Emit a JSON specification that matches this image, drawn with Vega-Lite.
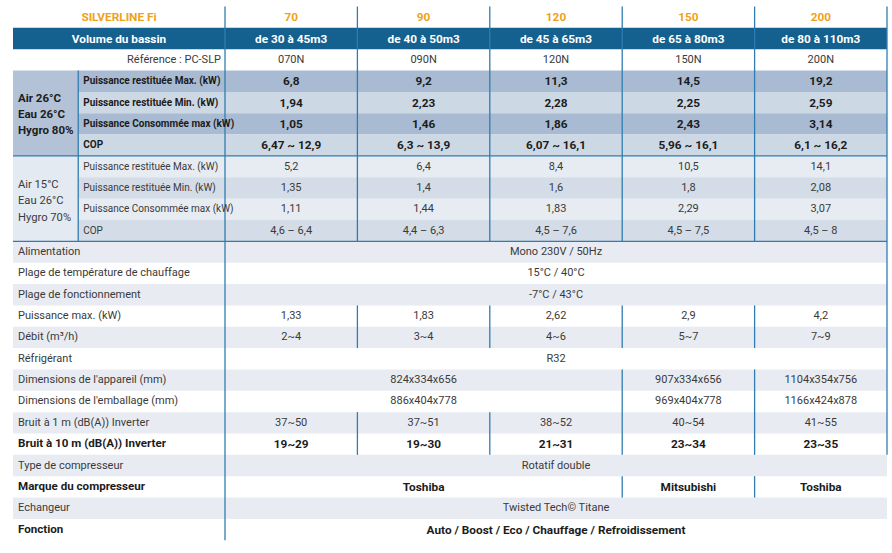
{
  "$schema": "https://vega.github.io/schema/vega-lite/v6.json",
  "width": 892,
  "height": 553,
  "autosize": {"type": "none"},
  "padding": 0,
  "background": "white",
  "config": {"view": {"stroke": null}},
  "datasets": {
    "cells": [
      {"r0": 1, "r1": 2, "c0": 0, "c1": 18, "tone": "band"},
      {"r0": 3, "r1": 7, "c0": 0, "c1": 4, "tone": "s1label"},
      {"r0": 3, "r1": 4, "c0": 4, "c1": 18, "tone": "s1dark"},
      {"r0": 4, "r1": 5, "c0": 4, "c1": 18, "tone": "s1light"},
      {"r0": 5, "r1": 6, "c0": 4, "c1": 18, "tone": "s1dark"},
      {"r0": 6, "r1": 7, "c0": 4, "c1": 18, "tone": "s1light"},
      {"r0": 7, "r1": 11, "c0": 0, "c1": 4, "tone": "s2label"},
      {"r0": 7, "r1": 8, "c0": 4, "c1": 18, "tone": "s2light"},
      {"r0": 8, "r1": 9, "c0": 4, "c1": 18, "tone": "s2dark"},
      {"r0": 9, "r1": 10, "c0": 4, "c1": 18, "tone": "s2light"},
      {"r0": 10, "r1": 11, "c0": 4, "c1": 18, "tone": "s2dark"},
      {"r0": 11, "r1": 12, "c0": 0, "c1": 18, "tone": "alt"},
      {"r0": 13, "r1": 14, "c0": 0, "c1": 18, "tone": "alt"},
      {"r0": 15, "r1": 16, "c0": 0, "c1": 18, "tone": "alt"},
      {"r0": 17, "r1": 18, "c0": 0, "c1": 18, "tone": "alt"},
      {"r0": 19, "r1": 20, "c0": 0, "c1": 18, "tone": "alt"},
      {"r0": 21, "r1": 22, "c0": 0, "c1": 18, "tone": "alt"},
      {"r0": 23, "r1": 24, "c0": 0, "c1": 18, "tone": "alt"}
    ],
    "vlines": [
      {"c": 4, "r0": 3, "r1": 11},
      {"c": 13, "r0": 0, "r1": 25},
      {"c": 14, "r0": 0, "r1": 11}, {"c": 14, "r0": 14, "r1": 16}, {"c": 14, "r0": 19, "r1": 21},
      {"c": 15, "r0": 0, "r1": 11}, {"c": 15, "r0": 14, "r1": 16}, {"c": 15, "r0": 19, "r1": 21},
      {"c": 16, "r0": 0, "r1": 11}, {"c": 16, "r0": 14, "r1": 16}, {"c": 16, "r0": 17, "r1": 21}, {"c": 16, "r0": 22, "r1": 23},
      {"c": 17, "r0": 0, "r1": 11}, {"c": 17, "r0": 14, "r1": 16}, {"c": 17, "r0": 17, "r1": 21}, {"c": 17, "r0": 22, "r1": 23},
      {"c": 18, "r0": 0, "r1": 21}
    ],
    "hlines": [
      {"r": 7, "c0": 0, "c1": 18},
      {"r": 11, "c0": 0, "c1": 18}
    ],
    "texts": [
      {"row": 0, "c0": 0, "c1": 13, "text": "SILVERLINE Fi", "style": "head"},
      {"row": 0, "c0": 13, "c1": 14, "text": "70", "style": "head"},
      {"row": 0, "c0": 14, "c1": 15, "text": "90", "style": "head"},
      {"row": 0, "c0": 15, "c1": 16, "text": "120", "style": "head"},
      {"row": 0, "c0": 16, "c1": 17, "text": "150", "style": "head"},
      {"row": 0, "c0": 17, "c1": 18, "text": "200", "style": "head"},
      {"row": 1, "c0": 0, "c1": 13, "text": "Volume du bassin", "style": "band"},
      {"row": 1, "c0": 13, "c1": 14, "text": "de 30 à 45m3", "style": "band"},
      {"row": 1, "c0": 14, "c1": 15, "text": "de 40 à 50m3", "style": "band"},
      {"row": 1, "c0": 15, "c1": 16, "text": "de 45 à 65m3", "style": "band"},
      {"row": 1, "c0": 16, "c1": 17, "text": "de 65 à 80m3", "style": "band"},
      {"row": 1, "c0": 17, "c1": 18, "text": "de 80 à 110m3", "style": "band"},
      {"row": 2, "c0": 0, "c1": 13, "text": "Référence : PC-SLP", "style": "ref"},
      {"row": 2, "c0": 13, "c1": 14, "text": "070N", "style": "val"},
      {"row": 2, "c0": 14, "c1": 15, "text": "090N", "style": "val"},
      {"row": 2, "c0": 15, "c1": 16, "text": "120N", "style": "val"},
      {"row": 2, "c0": 16, "c1": 17, "text": "150N", "style": "val"},
      {"row": 2, "c0": 17, "c1": 18, "text": "200N", "style": "val"},
      {"row": 3, "span": 4, "c0": 0, "c1": 4, "text": "Air 26°C\nEau 26°C\nHygro 80%", "style": "sec1"},
      {"row": 3, "c0": 4, "c1": 13, "text": "Puissance restituée Max. (kW)", "style": "labelC"},
      {"row": 4, "c0": 4, "c1": 13, "text": "Puissance restituée Min. (kW)", "style": "labelC"},
      {"row": 5, "c0": 4, "c1": 13, "text": "Puissance Consommée max (kW)", "style": "labelC"},
      {"row": 6, "c0": 4, "c1": 13, "text": "COP", "style": "labelC"},
      {"row": 3, "c0": 13, "c1": 14, "text": "6,8", "style": "valB"},
      {"row": 3, "c0": 14, "c1": 15, "text": "9,2", "style": "valB"},
      {"row": 3, "c0": 15, "c1": 16, "text": "11,3", "style": "valB"},
      {"row": 3, "c0": 16, "c1": 17, "text": "14,5", "style": "valB"},
      {"row": 3, "c0": 17, "c1": 18, "text": "19,2", "style": "valB"},
      {"row": 4, "c0": 13, "c1": 14, "text": "1,94", "style": "valB"},
      {"row": 4, "c0": 14, "c1": 15, "text": "2,23", "style": "valB"},
      {"row": 4, "c0": 15, "c1": 16, "text": "2,28", "style": "valB"},
      {"row": 4, "c0": 16, "c1": 17, "text": "2,25", "style": "valB"},
      {"row": 4, "c0": 17, "c1": 18, "text": "2,59", "style": "valB"},
      {"row": 5, "c0": 13, "c1": 14, "text": "1,05", "style": "valB"},
      {"row": 5, "c0": 14, "c1": 15, "text": "1,46", "style": "valB"},
      {"row": 5, "c0": 15, "c1": 16, "text": "1,86", "style": "valB"},
      {"row": 5, "c0": 16, "c1": 17, "text": "2,43", "style": "valB"},
      {"row": 5, "c0": 17, "c1": 18, "text": "3,14", "style": "valB"},
      {"row": 6, "c0": 13, "c1": 14, "text": "6,47 ~ 12,9", "style": "valB"},
      {"row": 6, "c0": 14, "c1": 15, "text": "6,3 ~ 13,9", "style": "valB"},
      {"row": 6, "c0": 15, "c1": 16, "text": "6,07 ~ 16,1", "style": "valB"},
      {"row": 6, "c0": 16, "c1": 17, "text": "5,96 ~ 16,1", "style": "valB"},
      {"row": 6, "c0": 17, "c1": 18, "text": "6,1 ~ 16,2", "style": "valB"},
      {"row": 7, "span": 4, "c0": 0, "c1": 4, "text": "Air 15°C\nEau 26°C\nHygro 70%", "style": "sec2"},
      {"row": 7, "c0": 4, "c1": 13, "text": "Puissance restituée Max. (kW)", "style": "labelN"},
      {"row": 8, "c0": 4, "c1": 13, "text": "Puissance restituée Min. (kW)", "style": "labelN"},
      {"row": 9, "c0": 4, "c1": 13, "text": "Puissance Consommée max (kW)", "style": "labelN"},
      {"row": 10, "c0": 4, "c1": 13, "text": "COP", "style": "labelN"},
      {"row": 7, "c0": 13, "c1": 14, "text": "5,2", "style": "val"},
      {"row": 7, "c0": 14, "c1": 15, "text": "6,4", "style": "val"},
      {"row": 7, "c0": 15, "c1": 16, "text": "8,4", "style": "val"},
      {"row": 7, "c0": 16, "c1": 17, "text": "10,5", "style": "val"},
      {"row": 7, "c0": 17, "c1": 18, "text": "14,1", "style": "val"},
      {"row": 8, "c0": 13, "c1": 14, "text": "1,35", "style": "val"},
      {"row": 8, "c0": 14, "c1": 15, "text": "1,4", "style": "val"},
      {"row": 8, "c0": 15, "c1": 16, "text": "1,6", "style": "val"},
      {"row": 8, "c0": 16, "c1": 17, "text": "1,8", "style": "val"},
      {"row": 8, "c0": 17, "c1": 18, "text": "2,08", "style": "val"},
      {"row": 9, "c0": 13, "c1": 14, "text": "1,11", "style": "val"},
      {"row": 9, "c0": 14, "c1": 15, "text": "1,44", "style": "val"},
      {"row": 9, "c0": 15, "c1": 16, "text": "1,83", "style": "val"},
      {"row": 9, "c0": 16, "c1": 17, "text": "2,29", "style": "val"},
      {"row": 9, "c0": 17, "c1": 18, "text": "3,07", "style": "val"},
      {"row": 10, "c0": 13, "c1": 14, "text": "4,6 – 6,4", "style": "val"},
      {"row": 10, "c0": 14, "c1": 15, "text": "4,4 – 6,3", "style": "val"},
      {"row": 10, "c0": 15, "c1": 16, "text": "4,5 – 7,6", "style": "val"},
      {"row": 10, "c0": 16, "c1": 17, "text": "4,5 – 7,5", "style": "val"},
      {"row": 10, "c0": 17, "c1": 18, "text": "4,5 – 8", "style": "val"},
      {"row": 11, "c0": 0, "c1": 13, "text": "Alimentation", "style": "label"},
      {"row": 11, "c0": 13, "c1": 18, "text": "Mono 230V / 50Hz", "style": "val"},
      {"row": 12, "c0": 0, "c1": 13, "text": "Plage de température de chauffage", "style": "label"},
      {"row": 12, "c0": 13, "c1": 18, "text": "15°C / 40°C", "style": "val"},
      {"row": 13, "c0": 0, "c1": 13, "text": "Plage de fonctionnement", "style": "label"},
      {"row": 13, "c0": 13, "c1": 18, "text": "-7°C / 43°C", "style": "val"},
      {"row": 14, "c0": 0, "c1": 13, "text": "Puissance max. (kW)", "style": "label"},
      {"row": 14, "c0": 13, "c1": 14, "text": "1,33", "style": "val"},
      {"row": 14, "c0": 14, "c1": 15, "text": "1,83", "style": "val"},
      {"row": 14, "c0": 15, "c1": 16, "text": "2,62", "style": "val"},
      {"row": 14, "c0": 16, "c1": 17, "text": "2,9", "style": "val"},
      {"row": 14, "c0": 17, "c1": 18, "text": "4,2", "style": "val"},
      {"row": 15, "c0": 0, "c1": 13, "text": "Débit (m³/h)", "style": "label"},
      {"row": 15, "c0": 13, "c1": 14, "text": "2~4", "style": "val"},
      {"row": 15, "c0": 14, "c1": 15, "text": "3~4", "style": "val"},
      {"row": 15, "c0": 15, "c1": 16, "text": "4~6", "style": "val"},
      {"row": 15, "c0": 16, "c1": 17, "text": "5~7", "style": "val"},
      {"row": 15, "c0": 17, "c1": 18, "text": "7~9", "style": "val"},
      {"row": 16, "c0": 0, "c1": 13, "text": "Réfrigérant", "style": "label"},
      {"row": 16, "c0": 13, "c1": 18, "text": "R32", "style": "val"},
      {"row": 17, "c0": 0, "c1": 13, "text": "Dimensions de l'appareil (mm)", "style": "label"},
      {"row": 17, "c0": 13, "c1": 16, "text": "824x334x656", "style": "val"},
      {"row": 17, "c0": 16, "c1": 17, "text": "907x334x656", "style": "val"},
      {"row": 17, "c0": 17, "c1": 18, "text": "1104x354x756", "style": "val"},
      {"row": 18, "c0": 0, "c1": 13, "text": "Dimensions de l'emballage (mm)", "style": "label"},
      {"row": 18, "c0": 13, "c1": 16, "text": "886x404x778", "style": "val"},
      {"row": 18, "c0": 16, "c1": 17, "text": "969x404x778", "style": "val"},
      {"row": 18, "c0": 17, "c1": 18, "text": "1166x424x878", "style": "val"},
      {"row": 19, "c0": 0, "c1": 13, "text": "Bruit à 1 m (dB(A)) Inverter", "style": "label"},
      {"row": 19, "c0": 13, "c1": 14, "text": "37~50", "style": "val"},
      {"row": 19, "c0": 14, "c1": 15, "text": "37~51", "style": "val"},
      {"row": 19, "c0": 15, "c1": 16, "text": "38~52", "style": "val"},
      {"row": 19, "c0": 16, "c1": 17, "text": "40~54", "style": "val"},
      {"row": 19, "c0": 17, "c1": 18, "text": "41~55", "style": "val"},
      {"row": 20, "c0": 0, "c1": 13, "text": "Bruit à 10 m (dB(A)) Inverter", "style": "labelB"},
      {"row": 20, "c0": 13, "c1": 14, "text": "19~29", "style": "valB"},
      {"row": 20, "c0": 14, "c1": 15, "text": "19~30", "style": "valB"},
      {"row": 20, "c0": 15, "c1": 16, "text": "21~31", "style": "valB"},
      {"row": 20, "c0": 16, "c1": 17, "text": "23~34", "style": "valB"},
      {"row": 20, "c0": 17, "c1": 18, "text": "23~35", "style": "valB"},
      {"row": 21, "c0": 0, "c1": 13, "text": "Type de compresseur", "style": "label"},
      {"row": 21, "c0": 13, "c1": 18, "text": "Rotatif double", "style": "val"},
      {"row": 22, "c0": 0, "c1": 13, "text": "Marque du compresseur", "style": "labelB"},
      {"row": 22, "c0": 13, "c1": 16, "text": "Toshiba", "style": "valB"},
      {"row": 22, "c0": 16, "c1": 17, "text": "Mitsubishi", "style": "valB"},
      {"row": 22, "c0": 17, "c1": 18, "text": "Toshiba", "style": "valB"},
      {"row": 23, "c0": 0, "c1": 13, "text": "Echangeur", "style": "label"},
      {"row": 23, "c0": 13, "c1": 18, "text": "Twisted Tech© Titane", "style": "val"},
      {"row": 24, "c0": 0, "c1": 13, "text": "Fonction", "style": "labelB"},
      {"row": 24, "c0": 13, "c1": 18, "text": "Auto / Boost / Eco / Chauffage / Refroidissement", "style": "valB"}
    ]
  },
  "layer": [
    {
      "data": {"name": "cells"},
      "mark": {"type": "rect"},
      "encoding": {
        "x": {"field": "c0", "type": "quantitative", "scale": {"domain": [0, 13, 18], "range": [13, 225, 887], "zero": false, "nice": false}, "axis": null},
        "x2": {"field": "c1"},
        "y": {"field": "r0", "type": "quantitative", "scale": {"domain": [0, 25], "range": [6.5, 540.25], "zero": false, "nice": false}, "axis": null},
        "y2": {"field": "r1"},
        "fill": {"field": "tone", "type": "nominal", "legend": null,
          "scale": {"domain": ["band", "s1label", "s1dark", "s1light", "s2label", "s2light", "s2dark", "alt"],
                    "range": ["#14608f", "#b3c2d6", "#a9bbd2", "#cdd8e5", "#e4eaf2", "#e7ecf3", "#d3dce7", "#e8ecf2"]}}
      }
    },
    {
      "data": {"name": "vlines"},
      "mark": {"type": "rule", "color": "#2f7db0", "strokeWidth": 1.3},
      "encoding": {
        "x": {"field": "c", "type": "quantitative", "scale": {"domain": [0, 13, 18], "range": [13, 225, 887], "zero": false, "nice": false}, "axis": null},
        "y": {"field": "r0", "type": "quantitative", "scale": {"domain": [0, 25], "range": [6.5, 540.25], "zero": false, "nice": false}, "axis": null},
        "y2": {"field": "r1"}
      }
    },
    {
      "data": {"name": "hlines"},
      "mark": {"type": "rule", "color": "#2f7db0", "strokeWidth": 1.3},
      "encoding": {
        "x": {"field": "c0", "type": "quantitative", "scale": {"domain": [0, 13, 18], "range": [13, 225, 887], "zero": false, "nice": false}, "axis": null},
        "x2": {"field": "c1"},
        "y": {"field": "r", "type": "quantitative", "scale": {"domain": [0, 25], "range": [6.5, 540.25], "zero": false, "nice": false}, "axis": null}
      }
    },
    {
      "data": {"name": "texts"},
      "transform": [
        {"filter": "datum.style == 'label'"},
        {"calculate": "datum.row + 0.5", "as": "ym"}
      ],
      "mark": {"type": "text", "align": "left", "baseline": "middle", "dx": 5, "font": "Roboto", "fontSize": 11},
      "encoding": {
        "x": {"field": "c0", "type": "quantitative", "scale": {"domain": [0, 13, 18], "range": [13, 225, 887], "zero": false, "nice": false}, "axis": null},
        "y": {"field": "ym", "type": "quantitative", "scale": {"domain": [0, 25], "range": [6.5, 540.25], "zero": false, "nice": false}, "axis": null},
        "text": {"field": "text", "type": "nominal"},
        "color": {"value": "#3a3a3a"}
      }
    },
    {
      "data": {"name": "texts"},
      "transform": [
        {"filter": "datum.style == 'sec2'"},
        {"calculate": "datum.row + datum.span / 2", "as": "ym"}
      ],
      "mark": {"type": "text", "align": "left", "baseline": "middle", "dx": 5, "dy": -14, "font": "Roboto", "fontSize": 11.2, "lineBreak": "\n", "lineHeight": 16.5},
      "encoding": {
        "x": {"field": "c0", "type": "quantitative", "scale": {"domain": [0, 13, 18], "range": [13, 225, 887], "zero": false, "nice": false}, "axis": null},
        "y": {"field": "ym", "type": "quantitative", "scale": {"domain": [0, 25], "range": [6.5, 540.25], "zero": false, "nice": false}, "axis": null},
        "text": {"field": "text", "type": "nominal"},
        "color": {"value": "#3a3a3a"}
      }
    },
    {
      "data": {"name": "texts"},
      "transform": [
        {"filter": "datum.style == 'labelN'"},
        {"calculate": "datum.row + 0.5", "as": "ym"}
      ],
      "mark": {"type": "text", "align": "left", "baseline": "middle", "dx": 5, "font": "Roboto", "fontSize": 10},
      "encoding": {
        "x": {"field": "c0", "type": "quantitative", "scale": {"domain": [0, 13, 18], "range": [13, 225, 887], "zero": false, "nice": false}, "axis": null},
        "y": {"field": "ym", "type": "quantitative", "scale": {"domain": [0, 25], "range": [6.5, 540.25], "zero": false, "nice": false}, "axis": null},
        "text": {"field": "text", "type": "nominal"},
        "color": {"value": "#3a3a3a"}
      }
    },
    {
      "data": {"name": "texts"},
      "transform": [
        {"filter": "datum.style == 'labelB'"},
        {"calculate": "datum.row + 0.5", "as": "ym"}
      ],
      "mark": {"type": "text", "align": "left", "baseline": "middle", "dx": 5, "font": "Roboto", "fontWeight": "bold", "fontSize": 11.6},
      "encoding": {
        "x": {"field": "c0", "type": "quantitative", "scale": {"domain": [0, 13, 18], "range": [13, 225, 887], "zero": false, "nice": false}, "axis": null},
        "y": {"field": "ym", "type": "quantitative", "scale": {"domain": [0, 25], "range": [6.5, 540.25], "zero": false, "nice": false}, "axis": null},
        "text": {"field": "text", "type": "nominal"},
        "color": {"value": "#1c1c1c"}
      }
    },
    {
      "data": {"name": "texts"},
      "transform": [
        {"filter": "datum.style == 'sec1'"},
        {"calculate": "datum.row + datum.span / 2", "as": "ym"}
      ],
      "mark": {"type": "text", "align": "left", "baseline": "middle", "dx": 5, "dy": -14, "font": "Roboto", "fontWeight": "bold", "fontSize": 11.5, "lineBreak": "\n", "lineHeight": 16},
      "encoding": {
        "x": {"field": "c0", "type": "quantitative", "scale": {"domain": [0, 13, 18], "range": [13, 225, 887], "zero": false, "nice": false}, "axis": null},
        "y": {"field": "ym", "type": "quantitative", "scale": {"domain": [0, 25], "range": [6.5, 540.25], "zero": false, "nice": false}, "axis": null},
        "text": {"field": "text", "type": "nominal"},
        "color": {"value": "#1c1c1c"}
      }
    },
    {
      "data": {"name": "texts"},
      "transform": [
        {"filter": "datum.style == 'labelC'"},
        {"calculate": "datum.row + 0.5", "as": "ym"}
      ],
      "mark": {"type": "text", "align": "left", "baseline": "middle", "dx": 5, "font": "Roboto", "fontWeight": "bold", "fontSize": 10},
      "encoding": {
        "x": {"field": "c0", "type": "quantitative", "scale": {"domain": [0, 13, 18], "range": [13, 225, 887], "zero": false, "nice": false}, "axis": null},
        "y": {"field": "ym", "type": "quantitative", "scale": {"domain": [0, 25], "range": [6.5, 540.25], "zero": false, "nice": false}, "axis": null},
        "text": {"field": "text", "type": "nominal"},
        "color": {"value": "#1c1c1c"}
      }
    },
    {
      "data": {"name": "texts"},
      "transform": [
        {"filter": "datum.style == 'ref'"},
        {"calculate": "datum.row + 0.5", "as": "ym"}
      ],
      "mark": {"type": "text", "align": "right", "baseline": "middle", "dx": -4, "font": "Roboto", "fontSize": 11},
      "encoding": {
        "x": {"field": "c1", "type": "quantitative", "scale": {"domain": [0, 13, 18], "range": [13, 225, 887], "zero": false, "nice": false}, "axis": null},
        "y": {"field": "ym", "type": "quantitative", "scale": {"domain": [0, 25], "range": [6.5, 540.25], "zero": false, "nice": false}, "axis": null},
        "text": {"field": "text", "type": "nominal"},
        "color": {"value": "#3a3a3a"}
      }
    },
    {
      "data": {"name": "texts"},
      "transform": [
        {"filter": "datum.style == 'val'"},
        {"calculate": "(datum.c0 + datum.c1) / 2", "as": "xm"},
        {"calculate": "datum.row + 0.5", "as": "ym"}
      ],
      "mark": {"type": "text", "align": "center", "baseline": "middle", "font": "Roboto", "fontSize": 11},
      "encoding": {
        "x": {"field": "xm", "type": "quantitative", "scale": {"domain": [0, 13, 18], "range": [13, 225, 887], "zero": false, "nice": false}, "axis": null},
        "y": {"field": "ym", "type": "quantitative", "scale": {"domain": [0, 25], "range": [6.5, 540.25], "zero": false, "nice": false}, "axis": null},
        "text": {"field": "text", "type": "nominal"},
        "color": {"value": "#3a3a3a"}
      }
    },
    {
      "data": {"name": "texts"},
      "transform": [
        {"filter": "datum.style == 'valB' || datum.style == 'head' || datum.style == 'band'"},
        {"calculate": "(datum.c0 + datum.c1) / 2", "as": "xm"},
        {"calculate": "datum.row + 0.5", "as": "ym"}
      ],
      "mark": {"type": "text", "align": "center", "baseline": "middle", "font": "Roboto", "fontWeight": "bold", "fontSize": 11.8},
      "encoding": {
        "x": {"field": "xm", "type": "quantitative", "scale": {"domain": [0, 13, 18], "range": [13, 225, 887], "zero": false, "nice": false}, "axis": null},
        "y": {"field": "ym", "type": "quantitative", "scale": {"domain": [0, 25], "range": [6.5, 540.25], "zero": false, "nice": false}, "axis": null},
        "text": {"field": "text", "type": "nominal"},
        "color": {"field": "style", "type": "nominal", "legend": null,
          "scale": {"domain": ["valB", "head", "band"], "range": ["#1c1c1c", "#eea21b", "#ffffff"]}}
      }
    }
  ]
}
